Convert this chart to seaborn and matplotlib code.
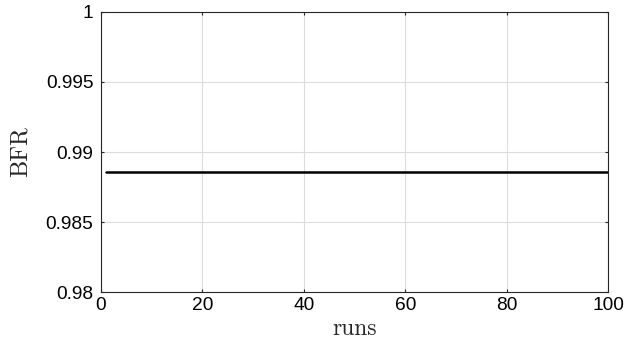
import matplotlib
matplotlib.use("Agg")
import matplotlib.pyplot as plt
import seaborn as sns
import pandas as pd

# 数据
runs = list(range(1, 101))
bfr = [0.9886] * 100
x_ticks = [0, 20, 40, 60, 80, 100]
y_ticks = [0.98, 0.985, 0.99, 0.995, 1.0]
y_tick_labels = ['0.98', '0.985', '0.99', '0.995', '1']

sns.set_style("whitegrid")
plt.rcParams['font.family'] = ['Liberation Sans', 'DejaVu Sans']

df = pd.DataFrame({'runs': runs, 'BFR': bfr})

fig = plt.figure(figsize=(6.27, 3.42), dpi=100)
ax = fig.add_axes([0.161, 0.146, 0.809, 0.819])

sns.lineplot(data=df, x='runs', y='BFR', color='black', linewidth=1.8, ax=ax)

ax.set_xlim(0, 100)
ax.set_ylim(0.98, 1.0)
ax.set_xticks(x_ticks)
ax.set_yticks(y_ticks)
ax.set_yticklabels(y_tick_labels)
ax.tick_params(direction='in', length=2.2, width=0.8, labelsize=13.8,
               colors='#262626', labelcolor='black', top=True, right=True,
               bottom=True, left=True)
ax.tick_params(axis='y', pad=5.5)
ax.tick_params(axis='x', pad=3.5)
ax.grid(True, color='#dcdcdc', linewidth=0.8)
for s in ax.spines.values():
    s.set_visible(True)
    s.set_color('#262626')
    s.set_linewidth(0.8)

ax.set_xlabel('runs', fontfamily='cmr10', fontsize=17, labelpad=3)
ax.set_ylabel('BFR', fontfamily='cmr10', fontsize=17.5, labelpad=10)

plt.savefig('out.png', dpi=100)
plt.close()
